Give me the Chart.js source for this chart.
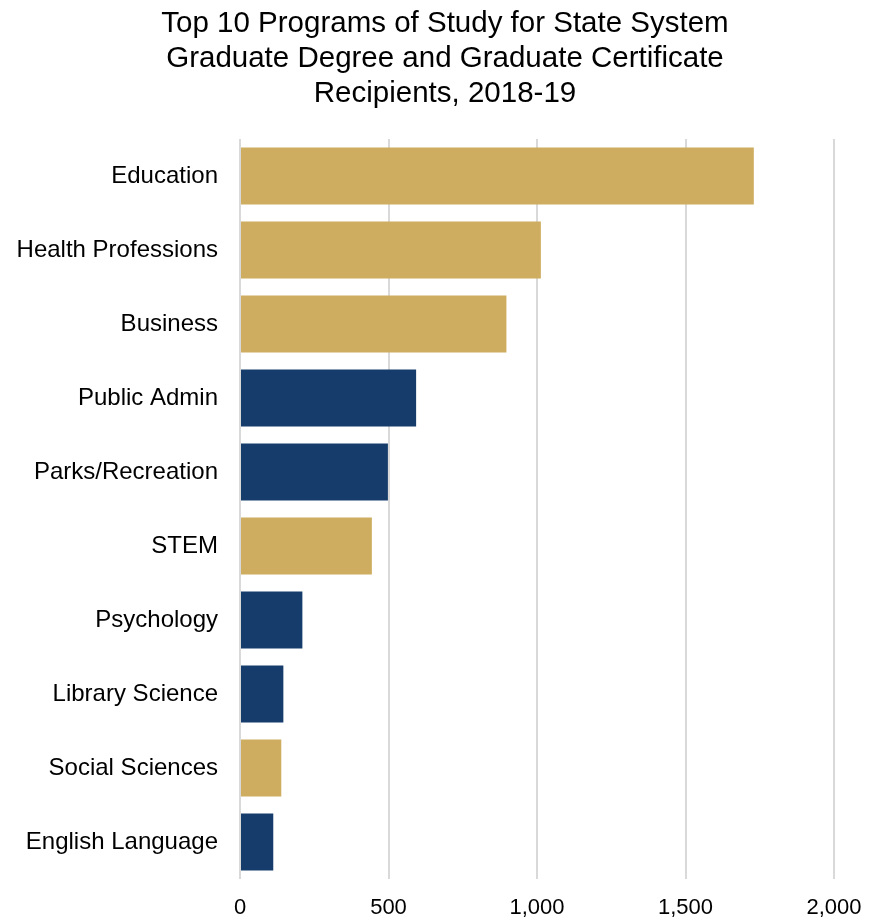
<!DOCTYPE html>
<html>
<head>
<meta charset="utf-8">
<title>Graduate Programs of Study 2018-19</title>
<script src="https://cdn.jsdelivr.net/npm/chart.js@4.4.1/dist/chart.umd.min.js"></script>
<style>
  html, body { margin: 0; padding: 0; background: #fff; }
  #wrap { width: 878px; height: 919px; position: relative; }
</style>
</head>
<body>
<div id="wrap"><canvas id="programs"></canvas></div>
<script>
// recipients per program, 2018-19
const programs = [
  'Education', 'Health Professions', 'Business', 'Public Admin', 'Parks/Recreation',
  'STEM', 'Psychology', 'Library Science', 'Social Sciences', 'English Language'
];
const recipients = [1730, 1013, 897, 593, 498, 444, 210, 146, 139, 112];
// which palette group each bar belongs to
const programGroup = ['gold', 'gold', 'gold', 'navy', 'navy', 'gold', 'navy', 'navy', 'gold', 'navy'];
const xTicks = [0, 500, 1000, 1500, 2000];
const titleLines = [
  'Top 10 Programs of Study for State System',
  'Graduate Degree and Graduate Certificate',
  'Recipients, 2018-19'
];

const palette = { gold: '#CEAD60', navy: '#153C6B' };
const fontFamily = '"Liberation Sans", Arial, sans-serif';

Chart.defaults.font.family = fontFamily;
Chart.defaults.color = '#000';

const padLeft = 10;
const plotLeft = 240;

// the built-in title centres on the whole canvas; this one sits a bit to the right
const titleBlock = {
  id: 'titleBlock',
  afterDraw(chart) {
    const ctx = chart.ctx;
    ctx.save();
    ctx.fillStyle = '#000';
    ctx.font = '29.5px ' + fontFamily;
    ctx.textAlign = 'center';
    ctx.textBaseline = 'middle';
    titleLines.forEach((line, i) => ctx.fillText(line, 445, 24 + i * 35));
    ctx.restore();
  }
};

new Chart(document.getElementById('programs'), {
  type: 'bar',
  data: {
    labels: programs,
    datasets: [{
      data: recipients,
      backgroundColor: programGroup.map(g => palette[g]),
      borderWidth: 0,
      barPercentage: 0.77,
      categoryPercentage: 1.0
    }]
  },
  plugins: [titleBlock],
  options: {
    indexAxis: 'y',
    responsive: true,
    maintainAspectRatio: false,
    animation: false,
    layout: {
      padding: { top: 139, right: 44, bottom: 0, left: padLeft }
    },
    plugins: {
      legend: { display: false },
      tooltip: { enabled: false },
      title: { display: false }
    },
    scales: {
      x: {
        min: 0,
        max: 2000,
        afterBuildTicks: (scale) => {
          scale.ticks = xTicks.map(v => ({ value: v }));
        },
        afterFit: (scale) => { scale.height = 40; },
        grid: {
          color: '#D9D9D9',
          lineWidth: 2,
          drawTicks: false
        },
        border: { display: false },
        ticks: {
          padding: 16,
          font: { size: 22 },
          callback: (v) => Number(v).toLocaleString('en-US')
        }
      },
      y: {
        afterFit: (scale) => { scale.width = plotLeft - padLeft; },
        grid: { display: false, drawTicks: false },
        border: { display: false },
        ticks: {
          padding: 22,
          font: { size: 24 }
        }
      }
    }
  }
});
</script>
</body>
</html>
